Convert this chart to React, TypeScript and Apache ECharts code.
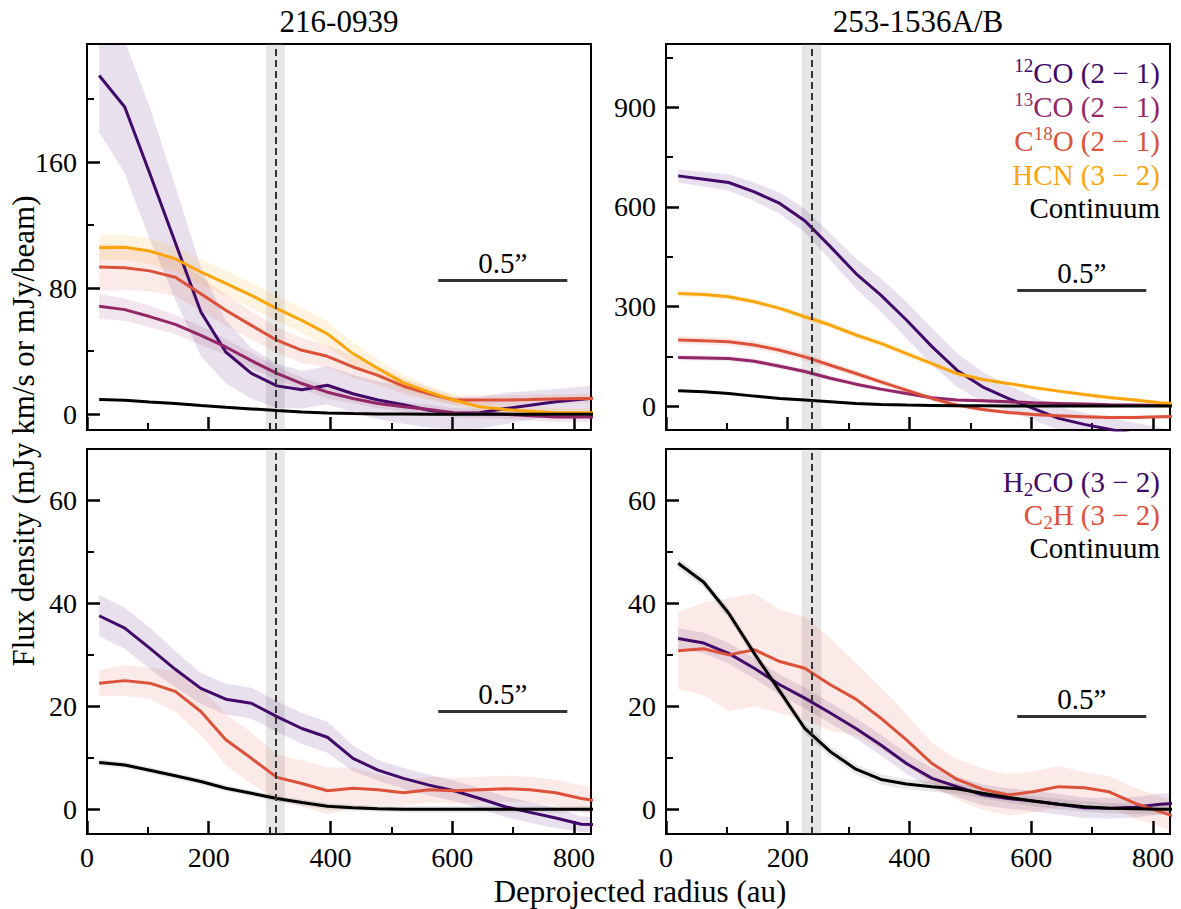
import React, { useEffect, useRef } from 'react';
import * as echarts from 'echarts';

const FONT = 'Liberation Serif';

// Deprojected radius sample points (au)
const radius = [20, 62, 103, 145, 187, 228, 270, 312, 353, 395, 437, 478, 520, 562, 603, 645, 687, 728, 770, 812, 853];

// Axis ticks
const xMajor = [0, 200, 400, 600, 800];
const xMinor = [100, 300, 500, 700];
const yMajorTL = [0, 80, 160];
const yMinorTL = [40, 120, 200];
const yMajorTR = [0, 300, 600, 900];
const yMinorTR = [150, 450, 750, 1050];
const yMajorBot = [0, 20, 40, 60];
const yMinorBot = [10, 30, 50];

// Axis ranges
const xRange = [0, 828];
const yRangeTL = [-10, 235];
const yRangeTR = [-72, 1090];
const yRangeBot = [-4.8, 70];

// Panel titles
const titles = ['216-0939', '253-1536A/B'];

// Dashed radius line and its uncertainty band (au)
const fwhmLeft = [310, 294, 325];
const fwhmRight = [239, 223, 255];

// 0.5" scale bar (au range, and height per panel in data units)
const scaleBarX = [577, 789];
const scaleBarY = [85, 349, 19, 18];

// ---- 216-0939, upper panel ----
const tl12co = [215, 195, 153, 109, 65, 39.5, 26, 18, 15.6, 18.4, 13, 9, 6, 2.5, 0.5, 1, 3.6, 5.7, 8, 9.5, 11];
const tl12coErr = [36, 42, 42, 36, 28, 20, 16, 14, 12, 12, 12, 12, 12, 11, 10, 10, 10, 9, 8, 8, 8];
const tl13co = [68.5, 66.4, 62, 57, 50, 42.7, 34, 26, 19.5, 14, 10, 6.8, 4.7, 3, 1, 0.4, 0, -1, -1.7, -1.7, -1.7];
const tl13coErr = [8, 7, 7, 6, 6, 5, 5, 4, 4, 4, 3, 3, 3, 3, 3, 3, 3, 3, 3, 3, 3];
const tlC18o = [93.4, 93, 91, 87, 76.5, 66, 56.4, 47, 40.6, 36.8, 30, 24.7, 17.8, 13, 9, 9, 9, 9.3, 9.7, 10, 10];
const tlC18oErr = [15, 14, 13, 12, 11, 10, 9, 8, 8, 7, 7, 6, 5, 4, 3, 3, 3, 3, 3, 3, 3];
const tlHcn = [105.7, 106, 103.6, 98.7, 90.3, 83, 75.5, 67, 59.6, 51, 38.5, 29, 19.9, 14, 9, 4.7, 3, 1.9, 1, 1, 1];
const tlHcnErr = [8, 8, 8, 8, 8, 8, 8, 8, 8, 8, 7, 6, 5, 4, 3, 3, 3, 3, 3, 3, 3];
const tlCont = [9.3, 8.9, 7.8, 6.8, 5.5, 4.4, 3.4, 2.3, 1.5, 0.8, 0.4, 0.2, 0.1, 0, 0, 0, 0, 0, 0, 0, 0];
const tlContErr = [0.6, 0.6, 0.6, 0.6, 0.6, 0.6, 0.6, 0.6, 0.6, 0.6, 0.6, 0.6, 0.6, 0.6, 0.6, 0.6, 0.6, 0.6, 0.6, 0.6, 0.6];

// ---- 253-1536A/B, upper panel ----
const tr12co = [693, 683, 673, 645, 610, 558, 480, 399, 334, 259, 179, 108, 58, 23, -7, -37, -55, -70, -85, -100, -115];
const tr12coErr = [20, 22, 25, 28, 32, 35, 40, 45, 50, 55, 55, 50, 45, 40, 35, 35, 35, 35, 35, 35, 35];
const tr13co = [146, 145, 143, 135, 120, 104, 84, 66, 51, 38, 25, 18, 16, 13, 10, 8, 6, 4, 3, 2, 2];
const tr13coErr = [8, 8, 8, 8, 8, 8, 8, 7, 6, 6, 5, 5, 5, 5, 5, 5, 5, 5, 5, 5, 5];
const trC18o = [199, 197, 194, 184, 168, 148, 123, 98, 73, 48, 23, 3, -10, -19, -25, -29, -32, -34, -34, -32, -30];
const trC18oErr = [12, 12, 12, 12, 12, 12, 11, 10, 9, 8, 8, 7, 6, 6, 6, 6, 6, 6, 6, 6, 6];
const trHcn = [339, 336, 329, 314, 294, 269, 244, 214, 189, 158, 128, 98, 80, 68, 56, 45, 35, 26, 18, 10, 5];
const trHcnErr = [10, 10, 10, 10, 10, 10, 10, 10, 10, 10, 8, 8, 6, 6, 6, 6, 6, 6, 6, 6, 6];
const trCont = [46, 43, 38, 30, 23, 18, 13, 8, 5, 3, 2, 1, 1, 0, 0, 0, 0, 0, 0, 0, 0];
const trContErr = [3, 3, 3, 3, 3, 3, 3, 3, 3, 3, 3, 3, 3, 3, 3, 3, 3, 3, 3, 3, 3];

// ---- 216-0939, lower panel ----
const blH2co = [37.6, 35.2, 31.3, 27.2, 23.5, 21.4, 20.6, 18, 15.7, 14, 9.9, 7.6, 6, 4.7, 3.6, 2.1, 0.5, -0.6, -1.7, -2.9, -3];
const blH2coErr = [4, 4, 4, 3.5, 3, 3, 3, 3, 3, 3, 2.5, 2, 2, 2, 2, 2, 2, 2, 2, 1.5, 1.5];
const blC2h = [24.5, 25, 24.5, 22.9, 19, 13.5, 9.9, 6.2, 5, 3.6, 4.1, 3.8, 3.2, 3.8, 3.6, 3.8, 4, 3.8, 3.2, 2.1, 1.4];
const blC2hErr = [2.5, 3, 3, 4, 4.5, 5, 5, 4.5, 4.5, 4.5, 4, 3, 2.5, 2.5, 2.5, 2.5, 2.5, 2.5, 2.5, 2.5, 2.5];
const blCont = [9.1, 8.6, 7.6, 6.5, 5.4, 4.1, 3.1, 2.1, 1.3, 0.6, 0.3, 0.1, 0, 0, 0, 0, 0, 0, 0, 0, 0];
const blContErr = [0.6, 0.6, 0.6, 0.6, 0.6, 0.6, 0.6, 0.6, 0.6, 0.6, 0.6, 0.6, 0.6, 0.6, 0.6, 0.6, 0.6, 0.6, 0.6, 0.6, 0.6];

// ---- 253-1536A/B, lower panel ----
const brH2co = [33.2, 32.3, 30.3, 27.4, 24.2, 21.6, 18.7, 15.7, 12.5, 8.9, 6, 4.4, 2.8, 2.1, 1.6, 1, 0.3, 0.2, 0.4, 1, 1.3];
const brH2coErr = [2, 2, 2, 2, 2, 2, 2, 2, 2, 2, 2, 2, 2, 2, 2, 2, 2, 2, 2, 2, 2];
const brC2h = [30.8, 31.2, 30, 31, 28.7, 27.4, 24.2, 21.4, 17.7, 13.5, 8.9, 5.8, 3.9, 2.8, 3.4, 4.4, 4.2, 3.4, 1.2, -0.5, -2];
const brC2hErr = [7.5, 9, 11, 11, 10, 10, 9, 7, 6, 5, 4, 4, 4, 4, 4, 4, 3, 3, 3, 3, 3];
const brCont = [47.8, 44.1, 38.1, 30.3, 22.9, 15.7, 11.2, 7.8, 5.8, 4.9, 4.4, 4, 3.1, 2.3, 1.6, 1, 0.5, 0.2, 0.1, 0, 0];
const brContErr = [1, 1, 1, 1, 1, 1, 1, 1, 1, 1, 1, 1, 1, 1, 1, 1, 1, 1, 1, 1, 1];

const C12 = '#420a68';
const C13 = '#932667';
const C18 = '#dd513a';
const CHCN = '#fca50a';
const CCONT = '#000000';

function rgba(hex: string, a: number) {
  const n = parseInt(hex.slice(1), 16);
  return `rgba(${(n >> 16) & 255},${(n >> 8) & 255},${n & 255},${a})`;
}

const grids = [
  { left: 87, top: 44, width: 504, height: 386 },
  { left: 666, top: 44, width: 504, height: 386 },
  { left: 87, top: 449, width: 504, height: 385 },
  { left: 666, top: 449, width: 504, height: 385 },
];

const panels = [
  {
    yRange: yRangeTL, yMajor: yMajorTL, yMinor: yMinorTL, fwhm: fwhmLeft,
    lines: [
      { v: tl12co, e: tl12coErr, c: C12 },
      { v: tl13co, e: tl13coErr, c: C13 },
      { v: tlC18o, e: tlC18oErr, c: C18 },
      { v: tlHcn, e: tlHcnErr, c: CHCN },
      { v: tlCont, e: tlContErr, c: CCONT },
    ],
  },
  {
    yRange: yRangeTR, yMajor: yMajorTR, yMinor: yMinorTR, fwhm: fwhmRight,
    lines: [
      { v: tr12co, e: tr12coErr, c: C12 },
      { v: tr13co, e: tr13coErr, c: C13 },
      { v: trC18o, e: trC18oErr, c: C18 },
      { v: trHcn, e: trHcnErr, c: CHCN },
      { v: trCont, e: trContErr, c: CCONT },
    ],
  },
  {
    yRange: yRangeBot, yMajor: yMajorBot, yMinor: yMinorBot, fwhm: fwhmLeft,
    lines: [
      { v: blH2co, e: blH2coErr, c: C12 },
      { v: blC2h, e: blC2hErr, c: C18 },
      { v: blCont, e: blContErr, c: CCONT },
    ],
  },
  {
    yRange: yRangeBot, yMajor: yMajorBot, yMinor: yMinorBot, fwhm: fwhmRight,
    lines: [
      { v: brH2co, e: brH2coErr, c: C12 },
      { v: brC2h, e: brC2hErr, c: C18 },
      { v: brCont, e: brContErr, c: CCONT },
    ],
  },
];

const legendTop = [
  { t: '{s|12}{n|CO (2 − 1)}', c: C12, y: 73 },
  { t: '{s|13}{n|CO (2 − 1)}', c: C13, y: 107 },
  { t: '{n|C}{s|18}{n|O (2 − 1)}', c: C18, y: 141 },
  { t: '{n|HCN (3 − 2)}', c: CHCN, y: 175 },
  { t: '{n|Continuum}', c: CCONT, y: 208 },
];
const legendBottom = [
  { t: '{n|H}{b|2}{n|CO (3 − 2)}', c: C12, y: 482 },
  { t: '{n|C}{b|2}{n|H (3 − 2)}', c: C18, y: 515 },
  { t: '{n|Continuum}', c: CCONT, y: 548 },
];

function buildOption() {
  const xAxis: any[] = [];
  const yAxis: any[] = [];
  const series: any[] = [];

  panels.forEach((p, g) => {
    xAxis.push({
      type: 'value', gridIndex: g, min: xRange[0], max: xRange[1], position: 'bottom',
      axisLine: { show: true, onZero: false, lineStyle: { color: '#000', width: 2 } },
      axisTick: { show: true, inside: true, length: 13, customValues: xMajor, lineStyle: { color: '#000', width: 2.5 } },
      axisLabel: { show: g >= 2, customValues: xMajor, fontFamily: FONT, fontSize: 28, color: '#000', margin: 9 },
      splitLine: { show: false },
    });
    xAxis.push({
      type: 'value', gridIndex: g, min: xRange[0], max: xRange[1], position: 'bottom',
      axisLine: { show: false, onZero: false },
      axisTick: { show: true, inside: true, length: 7, customValues: xMinor, lineStyle: { color: '#000', width: 2 } },
      axisLabel: { show: false },
      splitLine: { show: false },
    });
    yAxis.push({
      type: 'value', gridIndex: g, min: p.yRange[0], max: p.yRange[1], position: 'left',
      axisLine: { show: true, onZero: false, lineStyle: { color: '#000', width: 2 } },
      axisTick: { show: true, inside: true, length: 13, customValues: p.yMajor, lineStyle: { color: '#000', width: 2.5 } },
      axisLabel: { show: true, customValues: p.yMajor, fontFamily: FONT, fontSize: 28, color: '#000', margin: 10 },
      splitLine: { show: false },
    });
    yAxis.push({
      type: 'value', gridIndex: g, min: p.yRange[0], max: p.yRange[1], position: 'left',
      axisLine: { show: false, onZero: false },
      axisTick: { show: true, inside: true, length: 7, customValues: p.yMinor, lineStyle: { color: '#000', width: 2 } },
      axisLabel: { show: false },
      splitLine: { show: false },
    });

    const xi = 2 * g;
    const yi = 2 * g;

    series.push({
      type: 'line', xAxisIndex: xi, yAxisIndex: yi, data: [], z: 1, silent: true,
      markArea: {
        silent: true,
        itemStyle: { color: 'rgba(140,140,140,0.22)' },
        data: [[{ xAxis: p.fwhm[1] }, { xAxis: p.fwhm[2] }]],
      },
    });

    p.lines.forEach((ln) => {
      const vals = ln.v;
      const err = ln.e;
      const fill = ln.c === CCONT ? 'rgba(0,0,0,0.09)' : rgba(ln.c, 0.12);
      series.push({
        type: 'custom', xAxisIndex: xi, yAxisIndex: yi, z: 2, silent: true, clip: true,
        data: radius.map((r, i) => [r, vals[i]]),
        renderItem: (params: any, api: any) => {
          if (params.dataIndex !== 0) return null;
          const pts: number[][] = [];
          for (let i = 0; i < radius.length; i++) pts.push(api.coord([radius[i], vals[i] + err[i]]));
          for (let i = radius.length - 1; i >= 0; i--) pts.push(api.coord([radius[i], vals[i] - err[i]]));
          return { type: 'polygon', shape: { points: pts }, style: { fill } };
        },
      });
    });

    p.lines.forEach((ln) => {
      series.push({
        type: 'line', xAxisIndex: xi, yAxisIndex: yi, z: 3, silent: true, clip: true,
        data: radius.map((r, i) => [r, ln.v[i]]),
        showSymbol: false, symbol: 'none',
        lineStyle: { color: ln.c, width: 3 },
      });
    });

    series.push({
      type: 'line', xAxisIndex: xi, yAxisIndex: yi, data: [], z: 6, silent: true,
      markLine: {
        silent: true, symbol: ['none', 'none'],
        label: { show: false },
        data: [
          { xAxis: p.fwhm[0], lineStyle: { type: [7, 4], color: '#333', width: 2 }, label: { show: false } },
          [
            {
              coord: [scaleBarX[0], scaleBarY[g]],
              lineStyle: { type: 'solid', color: '#333', width: 3 },
              label: { show: true, position: 'insideMiddleTop', formatter: '0.5”', color: '#000', fontFamily: FONT, fontSize: 29, distance: 3 },
            },
            { coord: [scaleBarX[1], scaleBarY[g]] },
          ],
        ],
      },
    });
  });

  const mkLegend = (items: any[]) =>
    items.map((it) => ({
      type: 'text', x: 1160, y: it.y, z: 20,
      style: {
        text: it.t, align: 'right', verticalAlign: 'middle', fill: it.c,
        fontFamily: FONT, fontSize: 29,
        rich: {
          n: { fontFamily: FONT, fontSize: 29, lineHeight: 34, fill: it.c },
          s: { fontFamily: FONT, fontSize: 19, lineHeight: 20, verticalAlign: 'top', fill: it.c },
          b: { fontFamily: FONT, fontSize: 19, lineHeight: 20, verticalAlign: 'bottom', fill: it.c },
        },
      },
    }));

  const graphic: any[] = [
    { type: 'text', x: 339, y: 21, style: { text: titles[0], align: 'center', verticalAlign: 'middle', fill: '#000', fontFamily: FONT, fontSize: 31 } },
    { type: 'text', x: 918, y: 21, style: { text: titles[1], align: 'center', verticalAlign: 'middle', fill: '#000', fontFamily: FONT, fontSize: 31 } },
    { type: 'text', x: 23, y: 431, rotation: Math.PI / 2, style: { text: 'Flux density (mJy km/s or mJy/beam)', align: 'center', verticalAlign: 'middle', fill: '#000', fontFamily: FONT, fontSize: 31 } },
    { type: 'text', x: 640, y: 891, style: { text: 'Deprojected radius (au)', align: 'center', verticalAlign: 'middle', fill: '#000', fontFamily: FONT, fontSize: 31 } },
    ...mkLegend(legendTop),
    ...mkLegend(legendBottom),
  ];

  return {
    animation: false,
    backgroundColor: '#ffffff',
    textStyle: { fontFamily: FONT },
    grid: grids.map((gr) => ({ ...gr, show: true, borderColor: '#000', borderWidth: 2, backgroundColor: 'transparent', containLabel: false })),
    xAxis,
    yAxis,
    series,
    graphic,
  };
}

export default function App() {
  const ref = useRef<HTMLDivElement>(null);
  useEffect(() => {
    if (!ref.current) return;
    const chart = echarts.init(ref.current, null, { renderer: 'svg' });
    chart.setOption(buildOption() as any);
    return () => chart.dispose();
  }, []);
  return <div ref={ref} style={{ position: 'absolute', left: 0, top: 0, width: 1181, height: 909, background: '#fff' }} />;
}
